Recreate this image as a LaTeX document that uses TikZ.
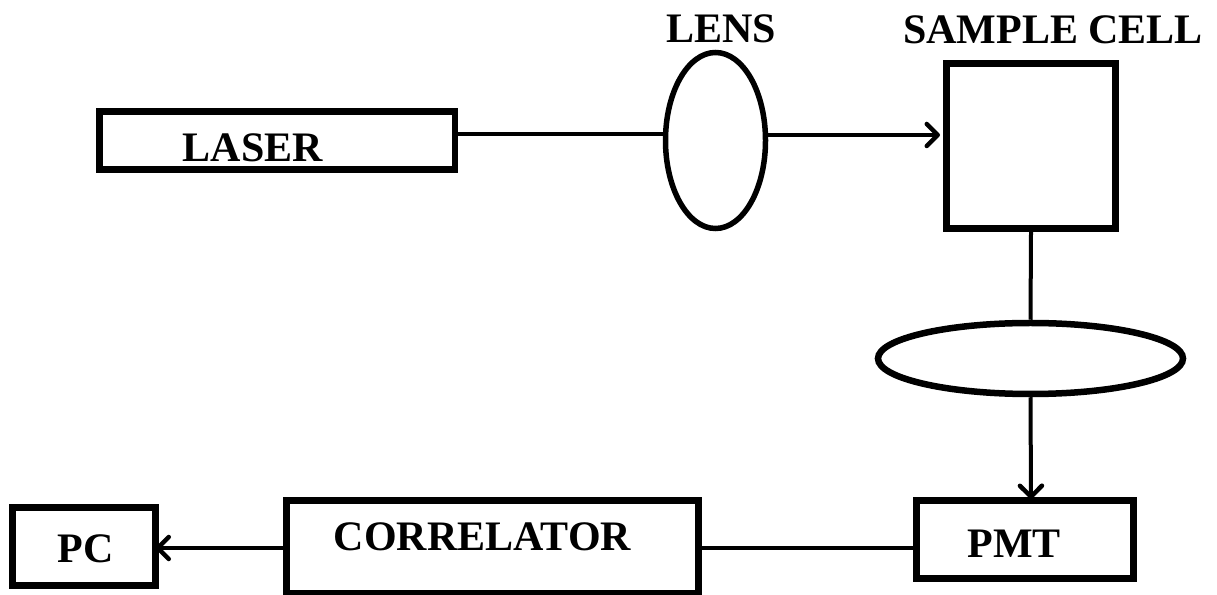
\documentclass[tikz,border=0pt]{standalone}
\usepackage{fontspec}
\setmainfont{Liberation Serif}
\usetikzlibrary{shapes.geometric,arrows.meta}
\begin{document}
\begin{tikzpicture}[x=1pt,y=1pt,
  box/.style={draw,line width=7pt,rectangle,inner sep=0pt},
  lensshape/.style={draw,line width=5.5pt,ellipse,inner sep=0pt},
  conn/.style={line width=4pt},
  arr/.style={line width=4pt,-{Straight Barb[length=11pt,width=22pt,line width=4.5pt,line cap=round,line join=round]}},
  lbl/.style={font=\fontsize{42}{50}\selectfont\bfseries,inner sep=0pt,anchor=base}]
\useasboundingbox (0,0) rectangle (1217,594);
% boxes
\node[box,line width=6.5pt,minimum width=355.5pt,minimum height=58pt] (laser) at (277.25,453.5) {};
\node[lensshape,minimum width=100pt,minimum height=176pt] (lens) at (715.5,453.5) {};
\node[box,minimum width=169pt,minimum height=164.5pt] (cell) at (1031,447.75) {};
\node[lensshape,line width=6.5pt,minimum width=305pt,minimum height=71pt] (lens2) at (1030.5,235.5) {};
\node[box,minimum width=217pt,minimum height=77.5pt] (pmt) at (1025,54.75) {};
\node[box,minimum width=412pt,minimum height=92.5pt] (corr) at (492.5,47.25) {};
\node[box,minimum width=143pt,minimum height=77.5pt] (pc) at (83.5,47.75) {};
% labels
\node[lbl] (tlaser) at (253,432) {LASER};
\node[lbl] (tlens) at (721,551) {LENS};
\node[lbl] (tcell) at (1053,550) {SAMPLE CELL};
\node[lbl] (tpmt) at (1014,37) {PMT};
\node[lbl] (tcorr) at (482.5,44) {CORRELATOR};
\node[lbl] (tpc) at (85.5,31) {PC};
% connectors
\draw[conn] ([yshift=6.5pt]laser.east) -- ([yshift=6.5pt]lens.west);
\draw[arr] ([yshift=5.5pt]lens.east) -- ([yshift=11.25pt,xshift=-3pt]cell.west);
\draw[conn] (cell.south) -- (lens2.north);
\draw[arr] (lens2.south) -- ([xshift=6pt,yshift=-2pt]pmt.north);
\draw[conn] ([yshift=-8.75pt]pmt.west) -- ([yshift=-1.25pt]corr.east);
\draw[arr] ([yshift=-1.25pt]corr.west) -- ([yshift=-1.75pt,xshift=-3pt]pc.east);
\end{tikzpicture}
\end{document}
